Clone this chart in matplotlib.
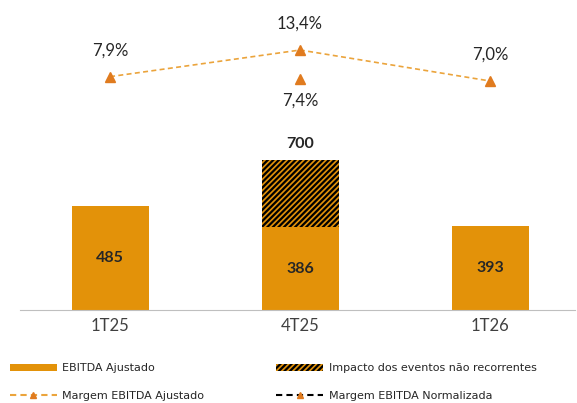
import matplotlib
matplotlib.use('Agg')
import matplotlib.pyplot as plt
from matplotlib.patches import Patch
from matplotlib.lines import Line2D

plt.rcParams['font.family'] = ['Lato', 'DejaVu Sans']
plt.rcParams['hatch.linewidth'] = 1.6

# data
periodos = ['1T25', '4T25', '1T26']
ebitda_ajustado = [485, 386, 393]
impacto = [0, 314, 0]
ebitda_total = [485, 700, 393]
margem_ajustado = [7.9, 13.4, 7.0]
margem_normalizada = [None, 7.4, None]

laranja = '#E39209'
linha = '#EBA43C'
marcador = '#E07B1F'
texto = '#262626'

fig = plt.figure(figsize=(5.77, 4.03), dpi=100)
ax = fig.add_axes([20 / 577, 1 - 310 / 403, 555 / 577, 290 / 403])
x = list(range(len(periodos)))

ax.bar(x, ebitda_ajustado, width=0.405, color=laranja, zorder=2)
ax.bar(x, impacto, width=0.405, bottom=ebitda_ajustado, color=laranja,
       edgecolor='black', hatch='//////', linewidth=0, zorder=2)

for i, v in enumerate(ebitda_ajustado):
    ax.text(i, v / 2, str(v), ha='center', va='center',
            fontsize=11.5, fontweight='bold', color=texto)
ax.text(1, ebitda_total[1] + 40, str(ebitda_total[1]), ha='center', va='bottom',
        fontsize=11.5, fontweight='bold', color=texto)

ax.set_xlim(-0.474, 2.447)
ax.set_ylim(0, 1349)
ax.set_yticks([])
ax.set_xticks(x)
ax.set_xticklabels(periodos, fontsize=12, color='#404040')
ax.tick_params(axis='x', length=0, pad=6)
for s in ['top', 'left', 'right']:
    ax.spines[s].set_visible(False)
ax.spines['bottom'].set_color('#BFBFBF')

ax2 = ax.twinx()
ax2.set_ylim(-40.3, 19.6)
ax2.plot(x, margem_ajustado, linestyle=(0, (3, 2)), color=linha, linewidth=1.2,
         marker='^', markersize=7, markerfacecolor=marcador, markeredgecolor=marcador)
ax2.plot([1], [margem_normalizada[1]], linestyle='none', marker='^', markersize=7,
         color=marcador)
for i, v in enumerate(margem_ajustado):
    ax2.annotate(f'{v:.1f}%'.replace('.', ','), (i, v), xytext=(0, 13),
                 textcoords='offset points', ha='center', va='bottom',
                 fontsize=12, color=texto)
ax2.annotate(f'{margem_normalizada[1]:.1f}%'.replace('.', ','), (1, margem_normalizada[1]),
             xytext=(0, -10), textcoords='offset points', ha='center', va='top',
             fontsize=12, color=texto)
ax2.set_yticks([])
for s in ax2.spines.values():
    s.set_visible(False)

handles = [
    Patch(facecolor=laranja, label='EBITDA Ajustado'),
    Line2D([], [], linestyle=(0, (3, 2)), color=linha, marker='^', markersize=5,
           markerfacecolor=marcador, markeredgecolor=marcador, label='Margem EBITDA Ajustado'),
    Patch(facecolor=laranja, edgecolor='black', hatch='//////', linewidth=0,
          label='Impacto dos eventos não recorrentes'),
    Line2D([], [], linestyle=(0, (3, 2)), color='black', marker='^', markersize=5,
           markerfacecolor=marcador, markeredgecolor=marcador, label='Margem EBITDA Normalizada'),
]
fig.legend(handles=handles, ncol=2, loc='lower left', bbox_to_anchor=(0.0, -0.02),
           frameon=False, handlelength=4.2, handleheight=0.7,
           handletextpad=0.5, columnspacing=6.5, labelspacing=1.6, labelcolor=texto,
           prop={'family': 'DejaVu Sans', 'size': 8})

fig.savefig('out.png', dpi=100)
